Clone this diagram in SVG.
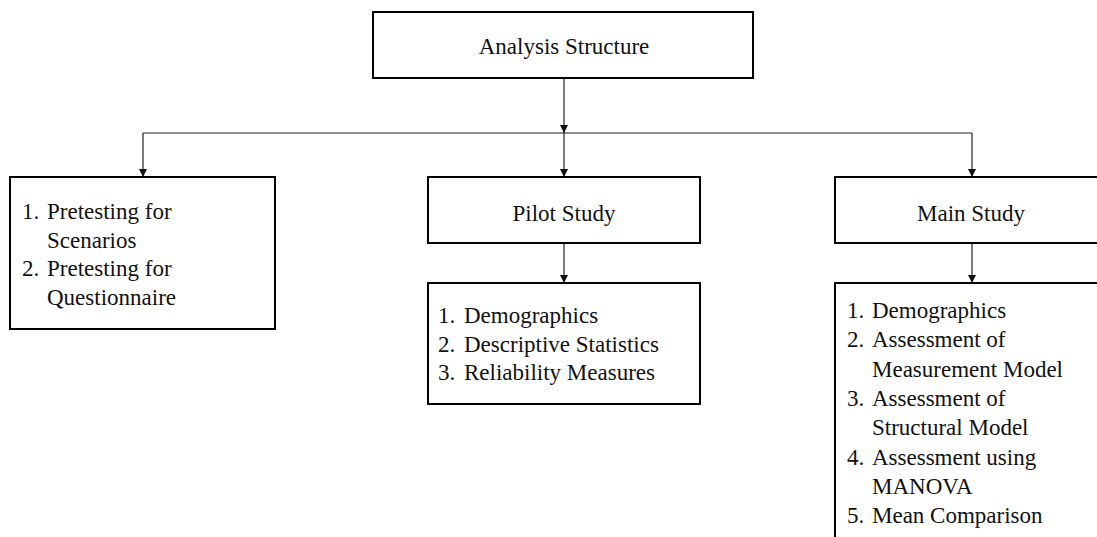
<svg xmlns="http://www.w3.org/2000/svg" width="1097" height="537" viewBox="0 0 1097 537">
<style>
.box{fill:#fff;stroke:#000;stroke-width:2}
.t{font-size:23px;fill:#111}
.c{text-anchor:middle}
.ln{fill:none;stroke:#222;stroke-width:1.2}
</style>
<defs>
<marker id="ah" viewBox="0 0 10 10" refX="10" refY="5" markerWidth="8" markerHeight="8" markerUnits="userSpaceOnUse" orient="auto">
<path d="M0,0 L10,5 L0,10 Z" fill="#111"/>
</marker>
</defs>
<rect width="1097" height="537" fill="#fff"/>
<g id="connectors">
<path class="ln" d="M564,78 V133" marker-end="url(#ah)"/>
<path class="ln" d="M143,133 H972"/>
<path class="ln" d="M143,133 V177" marker-end="url(#ah)"/>
<path class="ln" d="M564,133 V177" marker-end="url(#ah)"/>
<path class="ln" d="M972,133 V177" marker-end="url(#ah)"/>
<path class="ln" d="M564,243 V283" marker-end="url(#ah)"/>
<path class="ln" d="M972,243 V283" marker-end="url(#ah)"/>
</g>
<g font-family="Liberation Serif, Tinos, Times New Roman, DejaVu Serif, serif">
<g id="analysis-structure">
<rect class="box" x="373" y="12" width="380" height="66"/>
<text class="t c" x="564" y="54">Analysis Structure</text>
</g>
<g id="pretesting">
<rect class="box" x="10" y="177" width="265" height="152"/>
<text class="t" x="22" y="219">1.</text>
<text class="t" x="47" y="219">Pretesting for</text>
<text class="t" x="47" y="247.5">Scenarios</text>
<text class="t" x="22" y="276">2.</text>
<text class="t" x="47" y="276">Pretesting for</text>
<text class="t" x="47" y="304.5">Questionnaire</text>
</g>
<g id="pilot-study">
<rect class="box" x="428" y="177" width="272" height="66"/>
<text class="t c" x="564" y="221">Pilot Study</text>
</g>
<g id="pilot-list">
<rect class="box" x="428" y="283" width="272" height="121"/>
<text class="t" x="438" y="323">1.</text>
<text class="t" x="464" y="323">Demographics</text>
<text class="t" x="438" y="351.5">2.</text>
<text class="t" x="464" y="351.5">Descriptive Statistics</text>
<text class="t" x="438" y="380">3.</text>
<text class="t" x="464" y="380">Reliability Measures</text>
</g>
<g id="main-study">
<rect class="box" x="835" y="177" width="272" height="66"/>
<text class="t c" x="971" y="221">Main Study</text>
</g>
<g id="main-list">
<rect class="box" x="835" y="283" width="272" height="270"/>
<text class="t" x="847" y="318">1.</text>
<text class="t" x="872" y="318">Demographics</text>
<text class="t" x="847" y="347.3">2.</text>
<text class="t" x="872" y="347.3">Assessment of</text>
<text class="t" x="872" y="376.6">Measurement Model</text>
<text class="t" x="847" y="405.9">3.</text>
<text class="t" x="872" y="405.9">Assessment of</text>
<text class="t" x="872" y="435.2">Structural Model</text>
<text class="t" x="847" y="464.5">4.</text>
<text class="t" x="872" y="464.5">Assessment using</text>
<text class="t" x="872" y="493.8">MANOVA</text>
<text class="t" x="847" y="523">5.</text>
<text class="t" x="872" y="523">Mean Comparison</text>
</g>
</g>
</svg>
